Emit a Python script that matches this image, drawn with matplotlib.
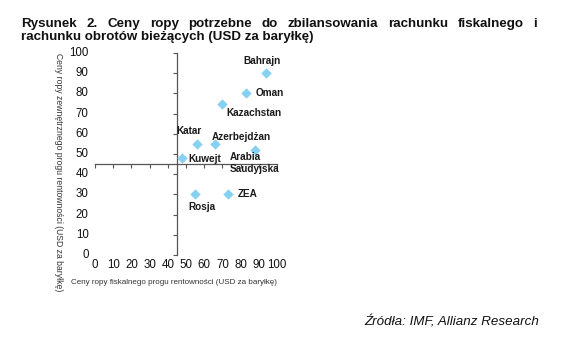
import matplotlib
matplotlib.use("Agg")
import matplotlib.pyplot as plt
from matplotlib.transforms import blended_transform_factory

countries = ["Bahrajn", "Oman", "Kazachstan", "Katar", "Azerbejdżan",
             "Arabia\nSaudyjska", "Kuwejt", "Rosja", "ZEA"]
fiscal = [94, 83, 70, 56, 66, 88, 48, 55, 73]
external = [90, 80, 75, 55, 55, 52, 48, 30, 30]
ticks = [0, 10, 20, 30, 40, 50, 60, 70, 80, 90, 100]

title_line1 = "Rysunek 2. Ceny ropy potrzebne do zbilansowania rachunku fiskalnego i"
title_line2 = "rachunku obrotów bieżących (USD za baryłkę)"

# label offsets (pixels) and alignment per country
label_pos = {
    "Bahrajn": (-4, 12, "center", "center"),
    "Oman": (10, 0, "left", "center"),
    "Kazachstan": (4, -9, "left", "center"),
    "Katar": (-8, 13, "center", "center"),
    "Azerbejdżan": (-3, 7, "left", "center"),
    "Arabia\nSaudyjska": (-25, -2, "left", "top"),
    "Kuwejt": (6, -1, "left", "center"),
    "Rosja": (7, -13, "center", "center"),
    "ZEA": (10, 0, "left", "center"),
}

plt.rcParams['font.family'] = ['Liberation Sans', 'DejaVu Sans']

W, H = 570, 352
fig = plt.figure(figsize=(W / 100, H / 100), dpi=100)
ax = fig.add_axes([95 / W, 1 - 255 / H, 182 / W, 202 / H])
ax.set_xlim(0, 100)
ax.set_ylim(0, 100)

ax.scatter(fiscal, external, marker="D", s=28, color="#86D0F2", zorder=3,
           linewidths=0)

for name, x, y in zip(countries, fiscal, external):
    dx, dy, ha, va = label_pos[name]
    ax.annotate(name, (x, y), xytext=(dx, dy), textcoords="offset pixels",
                ha=ha, va=va, fontsize=7.2, fontweight="bold", color="#1a1a1a",
                linespacing=1.25)

for s in ["top", "right"]:
    ax.spines[s].set_visible(False)
ax.spines["left"].set_position(("data", 45))
ax.spines["bottom"].set_position(("data", 45))
for s in ["left", "bottom"]:
    ax.spines[s].set_color("#555555")
    ax.spines[s].set_linewidth(0.9)
ax.set_xticks(ticks)
ax.set_yticks(ticks)
ax.tick_params(axis="both", labelleft=False, labelbottom=False,
               length=3, width=0.8, color="#555555", direction="out")

ty = blended_transform_factory(ax.transAxes, ax.transData)
tx = blended_transform_factory(ax.transData, ax.transAxes)
for t in ticks:
    ax.text(-0.035, t, str(t), transform=ty, ha="right", va="center",
            fontsize=8.3, color="#111111")
    ax.text(t, -0.05, str(t), transform=tx, ha="center", va="center",
            fontsize=8.3, color="#111111")

fig.text(174 / W, 1 - 282 / H, "Ceny ropy fiskalnego progu rentowności (USD za baryłkę)",
         ha="center", va="center", fontsize=5.8, color="#333333")
fig.text(58 / W, 1 - 172 / H, "Ceny ropy zewnętrznego progu rentowności (USD za baryłkę)",
         ha="center", va="center", fontsize=6.2, color="#333333", rotation=270)

# justified first title line
renderer = fig.canvas.get_renderer()
words = title_line1.split(" ")
left_px, right_px, y1 = 21, 537, 1 - 24 / H
arts = [fig.text(0, y1, w, ha="left", va="center", fontsize=9.6,
                 fontweight="bold", color="#111111") for w in words]
widths = [a.get_window_extent(renderer).width for a in arts]
gap = (right_px - left_px - sum(widths)) / (len(words) - 1)
xpos = left_px
for a, w in zip(arts, widths):
    a.set_x(xpos / W)
    xpos += w + gap
fig.text(left_px / W, 1 - 37 / H, title_line2,
         ha="left", va="center", fontsize=9.6, fontweight="bold", color="#111111")

fig.text(539 / W, 1 - 322 / H, "Źródła: IMF, Allianz Research", ha="right", va="center",
         fontsize=9.6, style="italic", color="#111111")

fig.savefig("out.png", dpi=100)
